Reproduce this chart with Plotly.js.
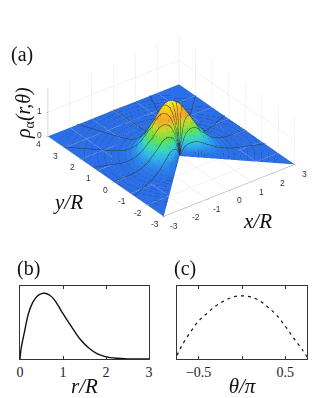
<!DOCTYPE html>
<html>
<head>
<meta charset="utf-8">
<script src="https://cdn.plot.ly/plotly-3.0.1.min.js"></script>
<style>html,body{margin:0;padding:0;background:#fff}</style>
</head>
<body>
<div id="chart" style="width:335px;height:398px"></div>
<script>
// panel (b), radial profile
const rProfile = [0, 0.02, 0.05, 0.1, 0.2, 0.3, 0.4, 0.5, 0.58, 0.7, 0.8, 0.9, 1, 1.2, 1.4, 1.6, 1.8, 2, 2.25, 2.5, 3];
const radialDensity = [0, 0.12, 0.22, 0.36, 0.63, 0.78, 0.86, 0.895, 0.9, 0.87, 0.81, 0.72, 0.62, 0.44, 0.27, 0.15, 0.07, 0.03, 0.01, 0.002, 0];

// panel (c), angular profile
const thetaProfile = [-0.75, -0.7, -0.6, -0.5, -0.4, -0.3, -0.2, -0.1, 0, 0.1, 0.2, 0.3, 0.4, 0.5, 0.6, 0.7, 0.75];
const angularDensity = [0.05, 0.17, 0.36, 0.52, 0.63, 0.73, 0.8, 0.85, 0.865, 0.85, 0.8, 0.71, 0.6, 0.45, 0.28, 0.12, 0.03];

// panel (a), surface on a polar grid, theta is measured from +y in units of pi
const gridR = [0, 0.1, 0.2, 0.3, 0.4, 0.5, 0.6, 0.7, 0.8, 0.9, 1, 1.2, 1.4, 1.6, 1.8, 2, 2.25, 2.5, 2.75, 3, 3.25, 3.5, 3.75, 4, 4.25, 4.5, 4.75, 5.1];
const gridThetaHalf = [-0.75, -0.6875, -0.625, -0.5625, -0.5, -0.4375, -0.375, -0.3125, -0.25, -0.205, -0.125, -0.0625, 0];
// one row per gridR, from the notch edge to theta = 0
const halfRows = [
  [0, 0, 0, 0, 0, 0, 0, 0, 0, 0, 0, 0, 0],
  [0, .10, .19, .29, .38, .46, .54, .62, .68, .73, .77, .79, .80],
  [0, .17, .34, .50, .66, .81, .95, 1.08, 1.19, 1.27, 1.34, 1.39, 1.40],
  [0, .21, .42, .63, .82, 1.01, 1.18, 1.34, 1.48, 1.58, 1.67, 1.72, 1.74],
  [0, .23, .46, .69, .90, 1.11, 1.31, 1.48, 1.63, 1.75, 1.84, 1.90, 1.92],
  [0, .24, .48, .72, .94, 1.15, 1.35, 1.53, 1.69, 1.81, 1.91, 1.97, 1.99],
  [0, .24, .48, .72, .94, 1.16, 1.36, 1.54, 1.70, 1.82, 1.92, 1.98, 2.00],
  [0, .23, .47, .70, .91, 1.13, 1.32, 1.49, 1.65, 1.77, 1.86, 1.92, 1.94],
  [0, .22, .43, .65, .85, 1.04, 1.22, 1.39, 1.53, 1.64, 1.73, 1.78, 1.80],
  [0, .19, .38, .58, .75, .93, 1.09, 1.23, 1.36, 1.46, 1.54, 1.58, 1.60],
  [0, .16, .32, .48, .63, .78, .91, 1.03, 1.14, 1.22, 1.29, 1.33, 1.34],
  [0, .12, .24, .36, .47, .58, .68, .77, .85, .91, .96, .99, 1.00],
  [0, .07, .14, .22, .28, .35, .41, .46, .51, .55, .58, .59, .60],
  [0, .04, .08, .12, .16, .20, .23, .26, .29, .31, .33, .34, .34],
  [0, .02, .04, .06, .08, .09, .11, .12, .14, .15, .15, .16, .16],
  [0, .01, .01, .02, .03, .03, .04, .05, .05, .05, .06, .06, .06],
  [0, 0, 0, .01, .01, .01, .01, .02, .02, .02, .02, .02, .02],
  [0, 0, 0, 0, 0, 0, 0, 0, 0, 0, 0, 0, 0],
  [0, 0, 0, 0, 0, 0, 0, 0, 0, 0, 0, 0, 0],
  [0, 0, 0, 0, 0, 0, 0, 0, 0, 0, 0, 0, 0],
  [0, 0, 0, 0, 0, 0, 0, 0, 0, 0, 0, 0, 0],
  [0, 0, 0, 0, 0, 0, 0, 0, 0, 0, 0, 0, 0],
  [0, 0, 0, 0, 0, 0, 0, 0, 0, 0, 0, 0, 0],
  [0, 0, 0, 0, 0, 0, 0, 0, 0, 0, 0, 0, 0],
  [0, 0, 0, 0, 0, 0, 0, 0, 0, 0, 0, 0, 0],
  [0, 0, 0, 0, 0, 0, 0, 0, 0, 0, 0, 0, 0],
  [0, 0, 0, 0, 0, 0, 0, 0, 0, 0, 0, 0, 0],
  [0, 0, 0, 0, 0, 0, 0, 0, 0, 0, 0, 0, 0]
];

const xTicks = [-3, -2, -1, 0, 1, 2, 3];
const yTicks = [-3, -2, -1, 0, 1, 2, 3, 4];
const zTicks = [0, 1];

// the picture is symmetric around theta = 0
function mirror(row, sign) {
  return row.concat(row.slice(0, -1).reverse().map(function (v) { return sign * v; }));
}
const gridTheta = mirror(gridThetaHalf, -1);
const gridZ = halfRows.map(function (row) { return mirror(row, 1); });

// polar grid -> x,y, cut off at the edge of the rectangle
var gridX = [], gridY = [], inside = [];
gridR.forEach(function (r, i) {
  gridX.push([]); gridY.push([]); inside.push([]);
  gridTheta.forEach(function (t) {
    var x = r * Math.sin(t * Math.PI);
    var y = r * Math.cos(t * Math.PI);
    var s = Math.min(1, 3 / Math.max(Math.abs(x), 1e-9), (y > 0 ? 4 : 3) / Math.max(Math.abs(y), 1e-9));
    gridX[i].push(x * s);
    gridY[i].push(y * s);
    inside[i].push(s === 1);
  });
});

// faint arcs of constant r
var arcX = [], arcY = [], arcZ = [];
for (let i = 1; i < gridR.length; i++) {
  for (let j = 0; j < gridTheta.length; j++) {
    if (inside[i][j]) {
      arcX.push(gridX[i][j]); arcY.push(gridY[i][j]); arcZ.push(gridZ[i][j] + 0.02);
    } else {
      arcX.push(null); arcY.push(null); arcZ.push(null);
    }
  }
  arcX.push(null); arcY.push(null); arcZ.push(null);
}

// solid radial lines of constant theta
var rayX = [], rayY = [], rayZ = [];
for (let j = 2; j < gridTheta.length - 1; j += 2) {
  for (let i = 0; i < gridR.length; i++) {
    rayX.push(gridX[i][j]); rayY.push(gridY[i][j]); rayZ.push(gridZ[i][j] + 0.025);
  }
  rayX.push(null); rayY.push(null); rayZ.push(null);
}

const surfaceColors = [
  [0, '#2c6ee6'], [0.08, '#2c84ea'], [0.2, '#2fb8ec'], [0.32, '#3edcb0'],
  [0.45, '#66e04c'], [0.6, '#c4dc2c'], [0.75, '#f4a828'], [0.88, '#f8c41c'], [1, '#f6f21c']
];

var traces = [
  {
    type: 'surface', x: gridX, y: gridY, z: gridZ, showscale: false, cmin: 0, cmax: 2,
    colorscale: surfaceColors, hoverinfo: 'skip',
    lighting: { ambient: 1, diffuse: 0, specular: 0, roughness: 1, fresnel: 0 }
  },
  {
    type: 'scatter3d', mode: 'lines', x: arcX, y: arcY, z: arcZ, hoverinfo: 'skip', opacity: 0.3,
    line: { color: '#000', width: 1 }, connectgaps: false
  },
  {
    type: 'scatter3d', mode: 'lines', x: rayX, y: rayY, z: rayZ, hoverinfo: 'skip',
    line: { color: '#333', width: 1 }, connectgaps: false
  },
  {
    type: 'scatter', x: rProfile, y: radialDensity, xaxis: 'x', yaxis: 'y', mode: 'lines',
    line: { color: '#111', width: 1.4, shape: 'spline' }, hoverinfo: 'skip'
  },
  {
    type: 'scatter', x: thetaProfile, y: angularDensity, xaxis: 'x2', yaxis: 'y2', mode: 'lines',
    line: { color: '#111', width: 1.2, shape: 'spline', dash: '3px,4px' }, hoverinfo: 'skip'
  }
];

const serif = '"Liberation Serif"';
const sans = '"Liberation Sans"';

function axis3d(range, ticks) {
  return {
    range: range, tickmode: 'array', tickvals: ticks, showticklabels: false,
    showbackground: false, showgrid: true, gridcolor: '#e6e6e6', gridwidth: 1,
    zeroline: false, showline: true, linecolor: '#999', linewidth: 1,
    showspikes: false, ticks: 'outside', ticklen: 2, tickcolor: '#999', title: { text: '' }
  };
}

// 3D tick labels as upright scene annotations
function tickLabel(text, x, y, z, dx, dy) {
  return {
    text: text, x: x, y: y, z: z, showarrow: false, xshift: dx, yshift: dy,
    font: { family: sans, size: 8.5, color: '#333' }
  };
}
var tickLabels = [];
xTicks.forEach(function (v) { tickLabels.push(tickLabel(String(v), v, -3, 0, 10, -10)); });
yTicks.forEach(function (v) { tickLabels.push(tickLabel(String(v), -3, v, 0, -9, -8)); });
zTicks.forEach(function (v) { tickLabels.push(tickLabel(String(v), -3, 4, v, -8, 1)); });

function axis2d(domain, range, ticks, labels, title) {
  return {
    domain: domain, range: range, tickmode: 'array', tickvals: ticks, ticktext: labels,
    ticks: 'inside', ticklen: 3, tickcolor: '#333', tickwidth: 1, mirror: 'allticks',
    showline: true, linecolor: '#333', linewidth: 1.2, showgrid: false, zeroline: false,
    tickfont: { family: serif, size: 14, color: '#222' },
    title: { text: title, font: { family: serif, size: 21, color: '#111' }, standoff: 0 }
  };
}

function densityAxis(domain, anchor) {
  return {
    domain: domain, range: [0, 1], anchor: anchor, showticklabels: false, ticks: '',
    mirror: true, showline: true, linecolor: '#333', linewidth: 1.2, showgrid: false, zeroline: false
  };
}

function note(text, x, y, size, angle) {
  return {
    text: text, xref: 'paper', yref: 'paper', x: x / 335, y: 1 - y / 398, showarrow: false,
    xanchor: 'center', yanchor: 'middle', textangle: angle || 0,
    font: { family: serif, size: size, color: '#111' }
  };
}

var layout = {
  width: 335, height: 398, margin: { l: 0, r: 0, t: 0, b: 0 },
  paper_bgcolor: '#fff', plot_bgcolor: '#fff', showlegend: false,
  scene: {
    domain: { x: [0, 1], y: [0.34, 1] },
    aspectmode: 'manual', aspectratio: { x: 1.25, y: 1.458, z: 0.43 },
    camera: {
      projection: { type: 'orthographic' },
      eye: { x: -1.053, y: -1.342, z: 1.003 }, center: { x: -0.023, y: 0.018, z: -0.047 }, up: { x: 0, y: 0, z: 1 }
    },
    xaxis: axis3d([-3, 3], xTicks),
    yaxis: axis3d([-3, 4], yTicks),
    zaxis: axis3d([0, 2], zTicks),
    annotations: tickLabels
  },
  xaxis: axis2d([20 / 335, 149 / 335], [0, 3], [0, 1, 2, 3], ['0', '1', '2', '3'], '<i>r/R</i>'),
  yaxis: densityAxis([39 / 398, 112 / 398], 'x'),
  xaxis2: axis2d([177 / 335, 307 / 335], [-0.75, 0.75], [-0.5, 0, 0.5], ['−0.5', '', '0.5'], '<i>θ/π</i>'),
  yaxis2: densityAxis([39 / 398, 112 / 398], 'x2'),
  annotations: [
    note('(a)', 22, 54, 20),
    note('(b)', 28, 268, 20),
    note('(c)', 185, 268, 20),
    note('<i>ρ</i><sub>α</sub><i>(r,θ)</i>', 24, 113, 20, -90),
    note('<i>y/R</i>', 68, 202, 21),
    note('<i>x/R</i>', 257, 221, 21)
  ]
};

Plotly.newPlot('chart', traces, layout, { displayModeBar: false });
</script>
</body>
</html>
